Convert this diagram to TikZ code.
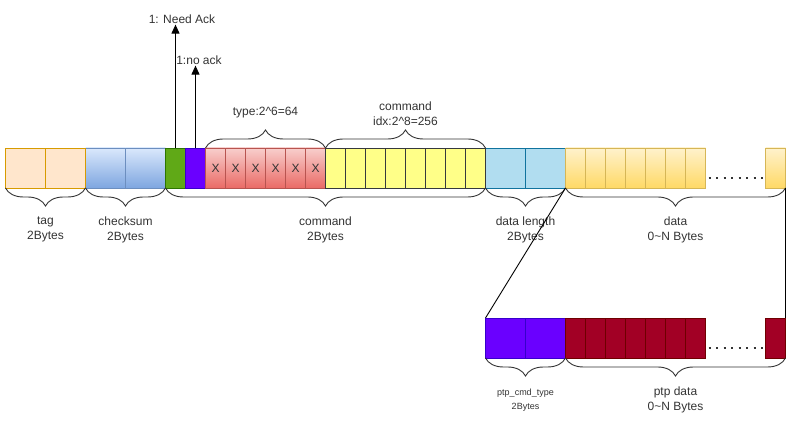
\documentclass[tikz,border=0pt]{standalone}
\usepackage{fontspec}
\setmainfont{Liberation Sans}
\usepackage{xcolor}
\usetikzlibrary{arrows.meta,decorations.pathreplacing}

\definecolor{tagfill}{HTML}{FFE6CC}
\definecolor{tagline}{HTML}{D79B00}
\definecolor{sumtop}{HTML}{DAE8FC}
\definecolor{sumbot}{HTML}{7EA6E0}
\definecolor{sumline}{HTML}{6C8EBF}
\definecolor{ackfill}{HTML}{60A917}
\definecolor{ackline}{HTML}{2D7600}
\definecolor{modefill}{HTML}{6A00FF}
\definecolor{modeline}{HTML}{3700CC}
\definecolor{typetop}{HTML}{F8CECC}
\definecolor{typebot}{HTML}{EA6B66}
\definecolor{typeline}{HTML}{B85450}
\definecolor{idxfill}{HTML}{FFFF88}
\definecolor{idxline}{HTML}{36393D}
\definecolor{lenfill}{HTML}{B1DDF0}
\definecolor{lenline}{HTML}{10739E}
\definecolor{datatop}{HTML}{FFF2CC}
\definecolor{databot}{HTML}{FFD966}
\definecolor{dataline}{HTML}{D6B656}
\definecolor{ptpfill}{HTML}{A20025}
\definecolor{ptpline}{HTML}{6F0000}
\definecolor{inkgray}{HTML}{333333}

\tikzset{
  cell/.style={draw, line width=0.9pt, minimum width=20pt, minimum height=40pt,
    inner sep=0pt, outer sep=0pt, font=\fontsize{12}{14}\selectfont, text=inkgray},
  wide/.style={cell, minimum width=40pt},
  tagcell/.style={wide, fill=tagfill, draw=tagline},
  sumcell/.style={wide, top color=sumtop, bottom color=sumbot, draw=sumline},
  ackcell/.style={cell, fill=ackfill, draw=ackline},
  modecell/.style={cell, fill=modefill, draw=modeline},
  typecell/.style={cell, top color=typetop, bottom color=typebot, draw=typeline},
  idxcell/.style={cell, fill=idxfill, draw=idxline},
  lencell/.style={wide, fill=lenfill, draw=lenline},
  datacell/.style={cell, top color=datatop, bottom color=databot, draw=dataline},
  ptpcmdcell/.style={wide, fill=modefill, draw=modeline},
  ptpcell/.style={cell, fill=ptpfill, draw=ptpline},
  brc/.style={decorate, decoration={brace, amplitude=18pt}, draw=inkgray, line width=0.9pt},
  brcdown/.style={brc, decoration={mirror}},
  lbl/.style={align=center, inner sep=1pt, text=inkgray, font=\fontsize{12}{15}\selectfont},
  small/.style={lbl, font=\fontsize{9}{14}\selectfont},
  arr/.style={-{Triangle[length=9pt,width=8pt]}, line width=1pt, draw=black},
  link/.style={line width=0.9pt, draw=black},
  dots/.style={line width=2pt, draw=inkgray, dash pattern=on 2pt off 5.5pt}
}

\begin{document}
\begin{tikzpicture}[x=1pt,y=-1pt]
  \useasboundingbox (0,0) rectangle (793,427);
  % frame fields
  \foreach \i in {1,2} {
    \node[tagcell] (tag\i) at (-14.5+40*\i,168) {};
    \node[sumcell] (sum\i) at (65.5+40*\i,168) {};
    \node[lencell] (len\i) at (465.5+40*\i,168) {};
    \node[ptpcmdcell] (cmd\i) at (465.5+40*\i,338) {};
  }
  \node[ackcell] (ack) at (175.5,168) {};
  \node[modecell] (mode) at (195.5,168) {};
  \foreach \i in {1,...,6}
    \node[typecell] (type\i) at (195.5+20*\i,168) {X};
  \foreach \i in {1,...,8}
    \node[idxcell] (idx\i) at (315.5+20*\i,168) {};
  \foreach \i in {1,...,7} {
    \node[datacell] (data\i) at (555.5+20*\i,168) {};
    \node[ptpcell] (ptp\i) at (555.5+20*\i,338) {};
  }
  \node[datacell] (datan) at (775.5,168) {};
  \node[ptpcell] (ptpn) at (775.5,338) {};
  %
  \draw[dots] ([xshift=3pt,yshift=-10pt]data7.east) -- ([xshift=-2pt,yshift=-10pt]datan.west);
  \draw[dots] ([xshift=3pt,yshift=-10pt]ptp7.east) -- ([xshift=-2pt,yshift=-10pt]ptpn.west);
  % labels
  \node[lbl] (taglbl) at (45.5,229.5) {tag\\2Bytes};
  \node[lbl] (sumlbl) at (125.5,229.5) {checksum\\2Bytes};
  \node[lbl] (cmdlbl) at (325.5,229.5) {command\\2Bytes};
  \node[lbl] (lenlbl) at (525.5,229.5) {data length\\2Bytes};
  \node[lbl] (datalbl) at (675.5,229.5) {data\\0\textasciitilde N Bytes};
  \node[lbl] (typelbl) at (265.5,113) {type:2\textasciicircum 6=64};
  \node[lbl] (idxlbl) at (405.5,113.5) {command\\idx:2\textasciicircum 8=256};
  \node[lbl] (needack) at (182,19) {1: Need Ack};
  \node[lbl] (noack) at (199,60) {1:no ack};
  \node[small] (ptpcmdlbl) at (525.5,400) {ptp\_cmd\_type\\2Bytes};
  \node[lbl] (ptplbl) at (675.5,399.5) {ptp data\\0\textasciitilde N Bytes};
  % braces
  \draw[brcdown] (tag1.south west) -- (tag2.south east);
  \draw[brcdown] (sum1.south west) -- (sum2.south east);
  \draw[brcdown] (ack.south west) -- (idx8.south east);
  \draw[brcdown] (len1.south west) -- (len2.south east);
  \draw[brcdown] (data1.south west) -- (datan.south east);
  \draw[brcdown] (cmd1.south west) -- (cmd2.south east);
  \draw[brcdown] (ptp1.south west) -- (ptpn.south east);
  \draw[brc] (type1.north west) -- (type6.north east);
  \draw[brc] (idx1.north west) -- (idx8.north east);
  % flags and links
  \draw[arr] (ack.north) -- (ack.north |- needack.south);
  \draw[arr] (mode.north) -- (mode.north |- noack.south);
  \draw[link] (cmd1.north west) -- (len2.south east);
  \draw[link] (datan.south east) -- (ptpn.north east);
\end{tikzpicture}
\end{document}
